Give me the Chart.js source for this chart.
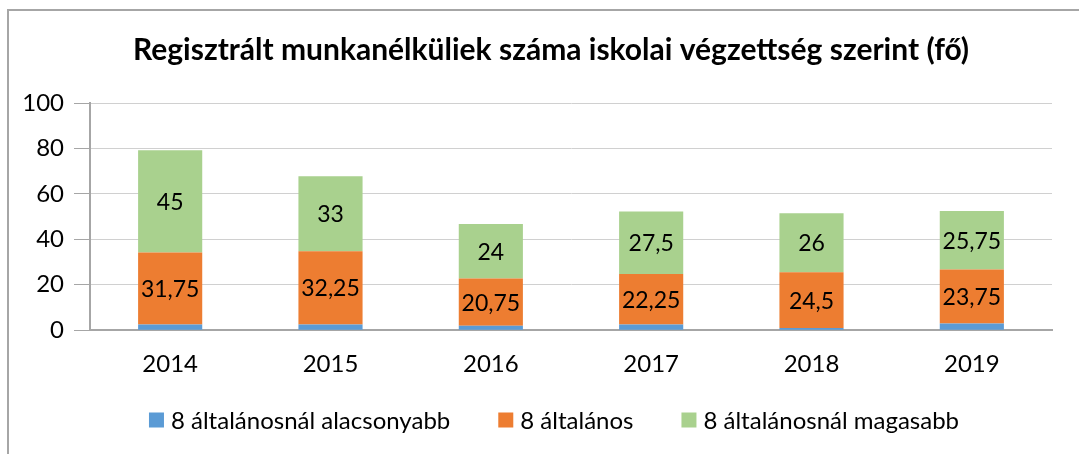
<!DOCTYPE html>
<html>
<head>
<meta charset="utf-8">
<script src="https://cdn.jsdelivr.net/npm/chart.js@4/dist/chart.umd.min.js"></script>
<style>
  body { margin: 0; background: #fff; overflow: hidden; }
  #frame { position: absolute; left: 7px; top: 9px; width: 1200px; height: 600px; border: 2px solid #a6a6a6; box-sizing: border-box; }
  #wrap { position: absolute; left: 0; top: 0; width: 1079px; height: 454px; }
</style>
</head>
<body>
<div id="frame"></div>
<div id="wrap"><canvas id="chart"></canvas></div>
<script>
var years = ['2014', '2015', '2016', '2017', '2018', '2019']
var alacsonyabb = [2.5, 2.5, 2, 2.5, 1, 3]
var altalanos = [31.75, 32.25, 20.75, 22.25, 24.5, 23.75]
var magasabb = [45, 33, 24, 27.5, 26, 25.75]
var yTicks = [0, 20, 40, 60, 80, 100]

var fontName = 'Lato, "Open Sans", sans-serif'

// simple inline value labels, no external plugin available
var segLabels = {
	id: 'segLabels'
	, afterDatasetsDraw: function (chart) {
		var ctx = chart.ctx
		ctx.save()
		ctx.font = '23px ' + fontName
		ctx.fillStyle = '#000'
		ctx.textAlign = 'center'
		ctx.textBaseline = 'middle'
		chart.data.datasets.forEach(function (ds, i) {
			if (!ds.showLabels) return
			chart.getDatasetMeta(i).data.forEach(function (bar, j) {
				var txt = String(ds.data[j]).replace('.', ',')
				ctx.fillText(txt, bar.x, (bar.y + bar.base) / 2 + 1)
			})
		})
		ctx.restore()
	}
}

// legend drawn by hand so item gaps and vertical spot can be set apart
var bottomLegend = {
	id: 'bottomLegend'
	, afterDraw: function (chart) {
		var ctx = chart.ctx
		var box = 15, gap = 7, spacing = 48, centerX = 554, y = 420
		ctx.save()
		ctx.font = '24px ' + fontName
		ctx.textBaseline = 'middle'
		ctx.textAlign = 'left'
		var items = chart.data.datasets.map(function (ds) {
			return { text: ds.label, color: ds.backgroundColor, w: ctx.measureText(ds.label).width }
		})
		var total = 0
		items.forEach(function (it, i) { total += box + gap + it.w + (i ? spacing : 0) })
		var x = centerX - total / 2
		items.forEach(function (it) {
			ctx.fillStyle = it.color
			ctx.fillRect(x, y - box / 2, box, box)
			ctx.fillStyle = '#000'
			ctx.fillText(it.text, x + box + gap, y + 1)
			x += box + gap + it.w + spacing
		})
		ctx.restore()
	}
}

// title sits a bit right of the layout centre in the original
var shiftTitle = {
	id: 'shiftTitle'
	, afterLayout: function (chart) {
		chart.titleBlock.left += 13.5
		chart.titleBlock.right += 13.5
	}
}

new Chart(document.getElementById('chart'), {
	type: 'bar'
	, data: {
		labels: years
		, datasets: [
			{ label: '8 általánosnál alacsonyabb', data: alacsonyabb, backgroundColor: '#5B9BD5' }
			, { label: '8 általános', data: altalanos, backgroundColor: '#ED7D31', showLabels: true }
			, { label: '8 általánosnál magasabb', data: magasabb, backgroundColor: '#A9D18E', showLabels: true }
		]
	}
	, options: {
		responsive: true
		, maintainAspectRatio: false
		, animation: false
		, layout: { padding: { left: 23, right: 27, top: 24, bottom: 55 } }
		, datasets: { bar: { barPercentage: 0.4, categoryPercentage: 1 } }
		, plugins: {
			title: {
				display: true
				, text: 'Regisztrált munkanélküliek száma iskolai végzettség szerint (fő)'
				, color: '#000'
				, font: { family: fontName, size: 30, weight: 'bold' }
				, padding: { top: 8, bottom: 35 }
			}
			, legend: { display: false }
			, tooltip: { enabled: false }
		}
		, scales: {
			x: {
				stacked: true
				, grid: { display: false, drawTicks: false }
				, border: { color: '#a6a6a6', width: 2 }
				, ticks: { color: '#000', font: { family: fontName, size: 24 }, padding: 20 }
			}
			, y: {
				stacked: true
				, min: yTicks[0]
				, max: yTicks[yTicks.length - 1]
				, afterBuildTicks: function (axis) {
					axis.ticks = yTicks.map(function (v) { return { value: v } })
				}
				, afterFit: function (axis) { axis.width = 67 }
				, grid: { color: '#d0d0d0', tickColor: '#a6a6a6', tickLength: 16 }
				, border: { color: '#a6a6a6', width: 2 }
				, ticks: { color: '#000', font: { family: fontName, size: 24 }, padding: 10 }
			}
		}
	}
	, plugins: [segLabels, bottomLegend, shiftTitle]
})
</script>
</body>
</html>
